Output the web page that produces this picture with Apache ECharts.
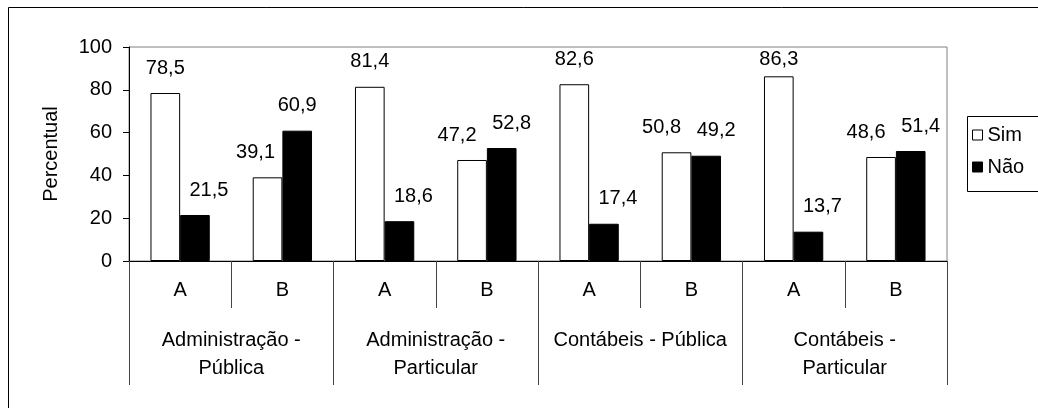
<!DOCTYPE html>
<html>
<head>
<meta charset="utf-8">
<script src="https://cdn.jsdelivr.net/npm/echarts@6/dist/echarts.min.js"></script>
<style>
html,body{margin:0;padding:0;background:#fff;}
#c{width:1038px;height:408px;}
</style>
</head>
<body>
<div id="c"></div>
<script>
// ---- data ----
var subCategories = ['A', 'B', 'A', 'B', 'A', 'B', 'A', 'B'];
var groups = ['Administração -\nPública', 'Administração -\nParticular', 'Contábeis - Pública', 'Contábeis -\nParticular'];
var simValues = [78.5, 39.1, 81.4, 47.2, 82.6, 50.8, 86.3, 48.6];
var naoValues = [21.5, 60.9, 18.6, 52.8, 17.4, 49.2, 13.7, 51.4];
var seriesNames = ['Sim', 'Não'];
var yTicks = [0, 20, 40, 60, 80, 100];

var FONT = 'Liberation Sans, Arial, sans-serif';
var FS = 20;
var PX_PER_UNIT = 214 / 100; // plot height / value range, for label clamping

// label shifting rule (Excel-like placement of data labels)
function shiftFor(i, isSim) {
  var s = simValues[i], n = naoValues[i];
  if (Math.abs(s - n) < 10) return isSim ? -15 : 10;
  if (isSim && s < n) return -12;
  if (!isSim && n < s) return 14;
  return 0;
}
// keep labels inside the plot area (Excel clamps them below the top border)
function clampFor(v) {
  var limit = 82.6;
  return v > limit ? (v - limit) * PX_PER_UNIT : 0;
}
function items(vals, isSim) {
  return vals.map(function (v, i) {
    return { value: v, label: { offset: [shiftFor(i, isSim), clampFor(v)] } };
  });
}
function fmt(p) { return p.value.toFixed(1).replace('.', ','); }

var chart = echarts.init(document.getElementById('c'), null, { renderer: 'canvas' });
chart.setOption({
  animation: false,
  backgroundColor: '#fff',
  textStyle: { fontFamily: FONT, color: '#000' },
  grid: {
    left: 129, right: 91, top: 47, bottom: 147,
    show: true, borderColor: '#808080', borderWidth: 1,
    containLabel: false, outerBoundsMode: 'none'
  },
  legend: {
    orient: 'vertical', left: 972, top: 125,
    icon: 'rect', itemWidth: 10, itemHeight: 10, itemGap: 12,
    itemStyle: { borderWidth: 1 },
    data: seriesNames,
    textStyle: { fontFamily: FONT, fontSize: FS, color: '#000', padding: [0, 0, 0, 0] },
    padding: 0
  },
  graphic: [
    { type: 'rect', shape: { x: 8.5, y: 7.5, width: 1100, height: 500 }, style: { fill: 'none', stroke: '#000', lineWidth: 1 }, silent: true, z: -1 },
    { type: 'rect', shape: { x: 967.5, y: 116.5, width: 200, height: 75 }, style: { fill: 'none', stroke: '#000', lineWidth: 1 }, silent: true, z: -1 }
  ],
  xAxis: [
    {
      type: 'category', data: subCategories, position: 'bottom', gridIndex: 0,
      axisLine: { show: true, lineStyle: { color: '#000', width: 1 } },
      axisTick: { show: true, interval: 0, length: 47, lineStyle: { color: '#444' } },
      axisLabel: { interval: 0, margin: 19, fontSize: FS, color: '#000', fontFamily: FONT }
    },
    {
      type: 'category', data: groups, position: 'bottom', gridIndex: 0, offset: 0,
      axisLine: { show: false },
      axisTick: { show: true, interval: 0, length: 124, lineStyle: { color: '#444' } },
      axisLabel: { interval: 0, margin: 65, fontSize: FS, lineHeight: 28, color: '#000', fontFamily: FONT }
    }
  ],
  yAxis: {
    type: 'value', min: yTicks[0], max: yTicks[yTicks.length - 1], interval: 20,
    name: 'Percentual', nameLocation: 'middle', nameRotate: 90, nameGap: 68,
    nameTextStyle: { fontSize: FS, color: '#000', fontFamily: FONT },
    axisLine: { show: true, lineStyle: { color: '#000', width: 1 } },
    axisTick: { show: true, inside: false, length: 6, lineStyle: { color: '#000' } },
    axisLabel: { margin: 17, fontSize: FS, color: '#000', fontFamily: FONT },
    splitLine: { show: false }
  },
  series: [
    {
      name: seriesNames[0], type: 'bar', xAxisIndex: 0,
      data: items(simValues, true),
      barGap: '0%', barCategoryGap: '42%',
      itemStyle: { color: '#fff', borderColor: '#000', borderWidth: 1 },
      label: { show: true, position: 'top', distance: 15, fontSize: FS, color: '#000', fontFamily: FONT, formatter: fmt }
    },
    {
      name: seriesNames[1], type: 'bar', xAxisIndex: 0,
      data: items(naoValues, false),
      barGap: '0%', barCategoryGap: '42%',
      itemStyle: { color: '#000', borderColor: '#000', borderWidth: 1 },
      label: { show: true, position: 'top', distance: 15, fontSize: FS, color: '#000', fontFamily: FONT, formatter: fmt }
    }
  ]
});
</script>
</body>
</html>
